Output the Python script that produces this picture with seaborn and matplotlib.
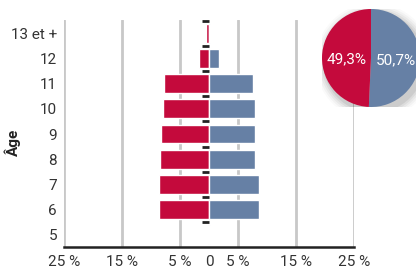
import numpy as np
import pandas as pd
import matplotlib
matplotlib.use("Agg")
import matplotlib.pyplot as plt
import matplotlib.markers as mmarkers
import seaborn as sns
from matplotlib.patches import Circle

# données
ages = ["13 et +", "12", "11", "10", "9", "8", "7", "6", "5"]
gauche = [0.5, 1.7, 7.7, 8.0, 8.2, 8.4, 8.6, 8.6, 0.1]   # rouge
droite = [0.1, 1.7, 7.5, 7.9, 8.0, 8.0, 8.6, 8.6, 0.1]   # bleu
parts = [50.7, 49.3]
parts_lab = ["50,7%", "49,3%"]
xticks = [-25, -15, -5, 0, 5, 15, 25]
xlabels = ["25 %", "15 %", "5 %", "0", "5 %", "15 %", "25 %"]

rouge = "#C40A3C"
bleu = "#6680A5"

sns.set_style("white")
plt.rcParams["font.family"] = ["Roboto", "DejaVu Sans"]

df = pd.DataFrame({"age": ages, "g": [-v for v in gauche], "d": droite})

fig = plt.figure(figsize=(4.16, 2.72), dpi=100)
ax = fig.add_axes([64 / 416, 25 / 272, 290 / 416, 227 / 272])

for x in [-25, -15, -5, 5, 15, 25]:
    ax.axvline(x, color="#c8c8c8", lw=2, zorder=0)

sns.barplot(data=df, y="age", x="g", order=ages, color=rouge, width=0.75,
            saturation=1, ax=ax, zorder=2)
sns.barplot(data=df, y="age", x="d", order=ages, color=bleu, width=0.75,
            saturation=1, ax=ax, zorder=2)

ax.set_xlim(-25, 25)
ax.set_ylim(8.48, -0.52)
ax.set_xticks(xticks)
ax.set_xticklabels(xlabels, fontsize=11, color="#333333")
ax.tick_params(axis="y", length=0, labelsize=11, labelcolor="#333333", pad=5)
ax.tick_params(axis="x", length=4, width=1.5, color="#222222", direction="out",
               labelsize=11, labelcolor="#333333", pad=2)
ax.set_xlabel("")
ax.set_ylabel("Âge", fontsize=11, fontweight="bold", color="#222222")
ax.yaxis.set_label_coords(-0.15, 0.46)

for s in ["top", "right", "left"]:
    ax.spines[s].set_visible(False)
ax.spines["bottom"].set_linewidth(1.8)
ax.spines["bottom"].set_color("#222222")

# petits traits à gauche de l'axe zéro
bornes = np.arange(-0.5, 8.0, 1)
ax.plot(np.zeros(len(bornes)), bornes, ls="none", marker=mmarkers.TICKLEFT,
        ms=5, mew=2, color="#222222", zorder=3, clip_on=False)

# camembert
pax = fig.add_axes([322 / 416, 1 - 107 / 272, 98 / 416, 98 / 272])
for i, a in enumerate([0.02, 0.03, 0.04, 0.05, 0.07]):
    pax.add_patch(Circle((0.06, -0.08), 1.0 + 0.04 * (5 - i), color="black",
                         alpha=a, lw=0, zorder=0))
wedges, _ = pax.pie(parts, colors=[bleu, rouge], startangle=90, counterclock=False,
                    radius=1, wedgeprops=dict(lw=0))
for w in wedges:
    w.set_zorder(2)
for w, lab in zip(wedges, parts_lab):
    ang = np.deg2rad((w.theta1 + w.theta2) / 2)
    pax.text(0.5 * np.cos(ang), 0.5 * np.sin(ang) - 0.04, lab, color="white",
             ha="center", va="center", fontsize=11, zorder=3)
pax.set_xlim(-1, 1)
pax.set_ylim(-1, 1)
pax.set_aspect("equal")
pax.axis("off")

fig.savefig("out.png", dpi=100)
